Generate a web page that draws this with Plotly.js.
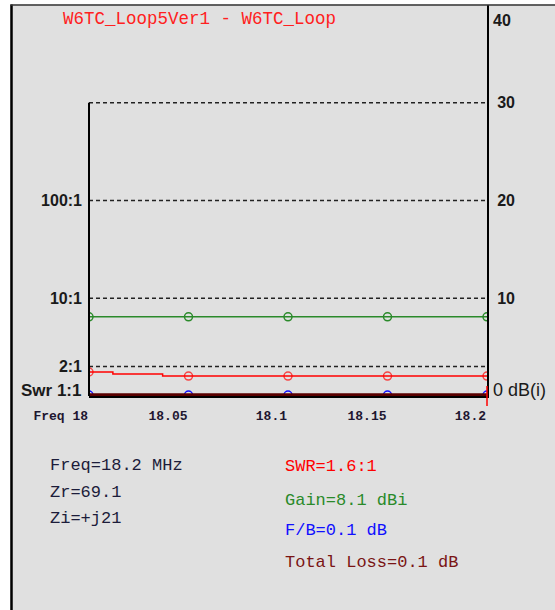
<!DOCTYPE html>
<html>
<head>
<meta charset="utf-8">
<script src="https://cdn.plot.ly/plotly-3.0.1.min.js"></script>
<style>html,body{margin:0;padding:0;background:#fff;}#chart{width:555px;height:610px;}</style>
</head>
<body>
<div id="chart"></div>
<script>
// ---- data ----
const freqs = [18.0, 18.05, 18.1, 18.15, 18.2];
const freqLabels = ['Freq 18', '18.05', '18.1', '18.15', '18.2'];
const swrFreqs = [18.0, 18.012, 18.037, 18.05, 18.1, 18.15, 18.2];
const swrValues = [1.76, 1.68, 1.6, 1.6, 1.6, 1.6, 1.6];
const swrMarkerOn = [1, 0, 0, 1, 1, 1, 1];
const gainDbi = [8.1, 8.1, 8.1, 8.1, 8.1];
const fbDb = [0.1, 0.1, 0.1, 0.1, 0.1];
const lossDb = [0.1, 0.1, 0.1, 0.1, 0.1];
const swrTicks = [2, 10, 100];
const swrTickText = ['2:1', '10:1', '100:1'];
const swrBaseLabel = 'Swr 1:1';
const dbTicks = [10, 20, 30];
const dbTickText = ['10', '20', '30'];
const dbTopLabel = '40';
const dbBaseLabel = '0 dB(i)';
const gridDb = [10, 20, 30];
const gridSwr = [2];
const titleText = 'W6TC_Loop5Ver1 - W6TC_Loop';
const infoLeft = ['Freq=18.2 MHz', 'Zr=69.1', 'Zi=+j21'];
const infoRight = ['SWR=1.6:1', 'Gain=8.1 dBi', 'F/B=0.1 dB', 'Total Loss=0.1 dB'];

// ---- styling / layout ----
const W = 555, H = 610, ML = 89, MR = 68, MT = 5, MB = 214;
const PW = W - ML - MR, PH = H - MT - MB;
const px = x => (x - ML) / PW;            // pixel -> paper x
const py = y => (H - MB - y) / PH;        // pixel -> paper y
const toDb = s => 10 * Math.log10(s);
const mono = 'Liberation Mono, Courier New, monospace';
const sans = 'Liberation Sans, Arial, sans-serif';
const RED = '#ff0000', GREEN = '#2a8a2a', BLUE = '#1010ff', MAROON = '#5a0000';
const LBL = '#1a1a1a';

const traces = [
  {x: freqs, y: fbDb, yaxis: 'y2', mode: 'lines+markers', line: {color: BLUE, width: 1.5},
   marker: {symbol: 'circle-open', size: 8, color: BLUE, line: {width: 1.5}}, hoverinfo: 'skip'},
  {x: freqs, y: lossDb, yaxis: 'y2', mode: 'lines', line: {color: MAROON, width: 3.5}, hoverinfo: 'skip'},
  {x: freqs, y: gainDbi, yaxis: 'y2', mode: 'lines+markers', line: {color: GREEN, width: 1.5},
   marker: {symbol: 'circle-open', size: 8, color: GREEN, line: {width: 1.5}}, hoverinfo: 'skip'},
  {x: swrFreqs, y: swrValues.map(toDb), yaxis: 'y', mode: 'lines+markers', line: {color: RED, width: 1.5, shape: 'hv'},
   marker: {symbol: 'circle-open', size: swrMarkerOn.map(m => m ? 8 : 0), color: RED, line: {width: 1.5}}, hoverinfo: 'skip'}
];

const shapes = [
  // white outer margins
  {type: 'rect', xref: 'paper', yref: 'paper', x0: px(-5), x1: px(10.5), y0: py(620), y1: py(-5), fillcolor: '#ffffff', line: {width: 0}, layer: 'below'},
  {type: 'rect', xref: 'paper', yref: 'paper', x0: px(-5), x1: px(560), y0: py(4.5), y1: py(-5), fillcolor: '#ffffff', line: {width: 0}, layer: 'below'},
  // frame borders
  {type: 'line', xref: 'paper', yref: 'paper', x0: px(11.5), x1: px(11.5), y0: py(4.5), y1: py(612), line: {color: '#000', width: 2.5}},
  {type: 'line', xref: 'paper', yref: 'paper', x0: px(10.5), x1: px(556), y0: py(5), y1: py(5), line: {color: '#333', width: 1.5}},
  // left axis line (from 0 up to 30)
  {type: 'line', xref: 'paper', yref: 'y', x0: 0, x1: 0, y0: 0, y1: 30, line: {color: '#000', width: 2}},
  // frequency cursor
  {type: 'line', xref: 'paper', yref: 'paper', x0: 1, x1: 1, y0: py(406), y1: py(386), line: {color: RED, width: 1.5}}
];
gridDb.forEach(v => shapes.push({type: 'line', xref: 'paper', yref: 'y', x0: 0, x1: 1, y0: v, y1: v,
  line: {color: '#222', width: 1.5, dash: '4px,3px'}, layer: 'below'}));
gridSwr.forEach(s => shapes.push({type: 'line', xref: 'paper', yref: 'y', x0: 0, x1: 1, y0: toDb(s), y1: toDb(s),
  line: {color: '#222', width: 1.5, dash: '4px,3px'}, layer: 'below'}));

const annotations = [
  {text: swrBaseLabel, xref: 'paper', yref: 'y', x: 0, y: toDb(1), xanchor: 'right', yanchor: 'middle', xshift: -6, yshift: 6,
   showarrow: false, font: {family: sans, size: 17, color: LBL, weight: 'bold'}},
  {text: dbBaseLabel, xref: 'paper', yref: 'y', x: 1, y: 0, xanchor: 'left', yanchor: 'middle', xshift: 4, yshift: 6,
   showarrow: false, font: {family: sans, size: 18, color: LBL}},
  {text: dbTopLabel, xref: 'paper', yref: 'paper', x: 1, y: py(20), xanchor: 'left', yanchor: 'middle', xshift: 4,
   showarrow: false, font: {family: sans, size: 16, color: LBL, weight: 'bold'}}
];
const leftY = [465, 492, 518];
infoLeft.forEach((t, i) => annotations.push({text: t, xref: 'paper', yref: 'paper', x: px(48), y: py(leftY[i]),
  xanchor: 'left', yanchor: 'middle', showarrow: false, font: {family: mono, size: 17, color: '#1c1c3a'}}));
const rightY = [466, 500, 530, 562];
const rightColors = [RED, GREEN, BLUE, '#7a1414'];
infoRight.forEach((t, i) => annotations.push({text: t, xref: 'paper', yref: 'paper', x: px(283), y: py(rightY[i]),
  xanchor: 'left', yanchor: 'middle', showarrow: false, font: {family: mono, size: 17, color: rightColors[i]}}));

const layout = {
  width: W, height: H,
  margin: {l: ML, r: MR, t: MT, b: MB, pad: 0},
  paper_bgcolor: '#e0e0e0', plot_bgcolor: '#e0e0e0',
  showlegend: false,
  title: {text: titleText, x: 63 / W, xref: 'container', xanchor: 'left', y: 1 - 18 / H, yref: 'container', yanchor: 'middle',
    font: {family: mono, size: 17.5, color: '#ff2020'}},
  xaxis: {range: [18.0, 18.2], tickvals: freqs, ticktext: freqLabels, ticklabelposition: 'outside left',
    tickfont: {family: mono, size: 13, color: '#1e1630', weight: 'bold'}, ticks: '', ticklabelstandoff: 6,
    showgrid: false, zeroline: false, showline: true, linecolor: '#000', linewidth: 2, fixedrange: true},
  yaxis: {range: [0, 40], side: 'left', tickvals: swrTicks.map(toDb), ticktext: swrTickText,
    tickfont: {family: sans, size: 16, color: LBL, weight: 'bold'}, ticks: '', ticklabelstandoff: 6,
    showgrid: false, zeroline: false, showline: false, fixedrange: true},
  yaxis2: {range: [0, 40], overlaying: 'y', side: 'right', tickvals: dbTicks, ticktext: dbTickText,
    tickfont: {family: sans, size: 16, color: LBL, weight: 'bold'}, ticks: '', ticklabelstandoff: 5,
    showgrid: false, zeroline: false, showline: true, linecolor: '#000', linewidth: 2, fixedrange: true},
  shapes: shapes,
  annotations: annotations
};

Plotly.newPlot('chart', traces, layout, {displayModeBar: false, staticPlot: true});
</script>
</body>
</html>
